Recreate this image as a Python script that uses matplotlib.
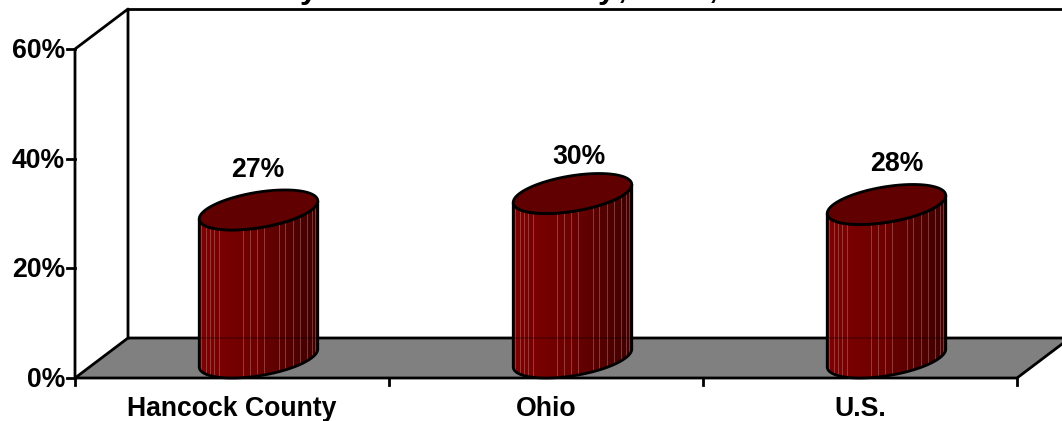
import matplotlib
matplotlib.use('Agg')
import matplotlib.pyplot as plt
import numpy as np
from matplotlib.patches import Polygon

plt.rcParams['font.family'] = ['Liberation Sans', 'DejaVu Sans']

categories = ['Hancock County', 'Ohio', 'U.S.']
values = [27, 30, 28]
y_ticks = [0, 20, 40, 60]

# figure is 1062x421, axes box is the front plane of the fake 3d chart
fig = plt.figure(figsize=(10.62, 4.21), dpi=100)
ax = fig.add_axes([75 / 1062, 1 - 378 / 421, 942 / 1062, 329 / 421])
ax.axis('off')

# size of one data unit in pixels, and the depth offset
px_x = 942 / 3
px_y = 329 / 60
depth_x = 53 / px_x
depth_y = 40 / px_y
line = 2.0
font = 19.2

# the title is cut off by the top edge, only these descenders can be read
for x_px, piece in [(309, 'y'), (607, 'y'), (622, ','), (713, ',')]:
    fig.text(x_px / 1062, 1 + 2 / 421, piece, ha='center', va='baseline', fontsize=23, fontweight='bold')

# floor and walls
ax.add_patch(Polygon([(0, 0), (3, 0), (3 + depth_x, depth_y), (depth_x, depth_y)],
                     facecolor='#808080', edgecolor='black', linewidth=line, clip_on=False, zorder=1))
ax.plot([0, 0, depth_x, depth_x], [0, 60, 60 + depth_y, depth_y], color='black', lw=line, clip_on=False, zorder=2)
ax.plot([depth_x, 3 + depth_x], [60 + depth_y, 60 + depth_y], color='black', lw=line, clip_on=False, zorder=2)

# tick marks and tick labels
for t in y_ticks:
    ax.plot([-8 / px_x, 0], [t, t], color='black', lw=line, clip_on=False, zorder=2)
    ax.text(-10 / px_x, t - 2 / px_y, f'{t}%', ha='right', va='center', fontsize=font, fontweight='bold')
for i in range(4):
    ax.plot([i, i], [0, -7 / px_y], color='black', lw=line, clip_on=False, zorder=2)
for i, name in enumerate(categories):
    ax.text(i + 0.5, -38 / px_y, name, ha='center', va='baseline', fontsize=font, fontweight='bold')

# cylinder shading, one column per pixel
stops_t = [0.0, 0.5, 0.75, 1.0]
stops_r = [128, 108, 85, 62]
stripes = [0.02, 0.06, 0.10, 0.13, 0.17, 0.37, 0.43, 0.49, 0.55, 0.68, 0.73, 0.79, 0.85, 0.91, 0.95, 0.98]
n_col = 119
shade = np.zeros((1, n_col, 3))
col_t = (np.arange(n_col) + 0.5) / n_col
shade[0, :, 0] = np.interp(col_t, stops_t, stops_r) / 255
for st in stripes:
    c = int(st * n_col)
    shade[0, c] = shade[0, c] * 0.6 + np.array([0.8, 0.55, 0.55]) * 0.4

label_gap = [20, 16, 20]
label_shift = [-1, 6, 10]

s = np.linspace(0, 2 * np.pi, 361)
half_w = 53 / px_x
half_dx = 26.5 / px_x
half_dy = 20 / px_y
ex = half_w * np.cos(s) + half_dx * np.sin(s)
ey = half_dy * np.sin(s)
k_left, k_right = np.argmin(ex), np.argmax(ex)

for i, val in enumerate(values):
    cx = i + 0.5 + depth_x / 2
    cy = depth_y / 2
    # front arc of the base ellipse, from the left extreme round the bottom to the right one
    arc = np.r_[np.arange(k_left, len(s) - 1), np.arange(0, k_right + 1)] if k_left > k_right else np.arange(k_left, k_right + 1)
    front_x = cx + ex[arc]
    front_y = cy + ey[arc]
    body = np.r_[np.c_[front_x, front_y], np.c_[front_x[::-1], front_y[::-1] + val]]
    body_patch = Polygon(body, facecolor='none', edgecolor='black', linewidth=line, clip_on=False, zorder=4)
    ax.add_patch(body_patch)
    im = ax.imshow(shade, extent=(cx + ex.min(), cx + ex.max(), 0, 60), aspect='auto',
                   interpolation='nearest', zorder=3)
    im.set_clip_path(body_patch)
    # back floor edge shows faintly through the bar
    back = ax.plot([cx + ex.min(), cx + ex.max()], [depth_y, depth_y], color='black', lw=1.2, alpha=0.3, zorder=3.5)[0]
    back.set_clip_path(body_patch)
    ax.add_patch(Polygon(np.c_[cx + ex, cy + ey + val], facecolor='#600000', edgecolor='black',
                         linewidth=line, zorder=5, clip_on=False))
    ax.text(cx + label_shift[i] / px_x, cy + val + half_dy + label_gap[i] / px_y, f'{val}%', ha='center', va='center',
            fontsize=font, fontweight='bold')

ax.set_xlim(0, 3)
ax.set_ylim(0, 60)

fig.savefig('out.png', dpi=100, facecolor='white')
